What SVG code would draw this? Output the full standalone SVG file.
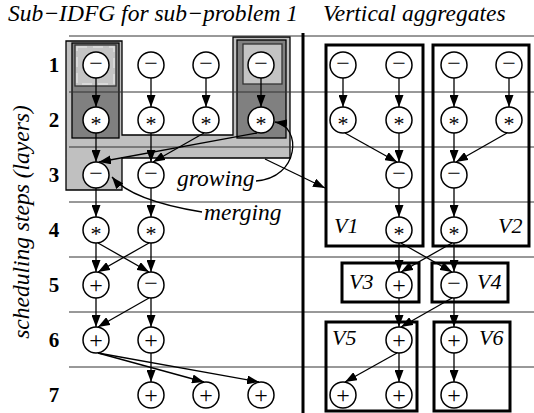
<svg xmlns="http://www.w3.org/2000/svg" width="534" height="413" viewBox="0 0 534 413">
  <style>
    .row { stroke: #333; stroke-width: 1; fill: none; }
    .e { stroke: #000; stroke-width: 1.3; fill: none; marker-end: url(#ah); }
    .n circle { fill: #fff; stroke: #000; stroke-width: 1.5; }
    .op { font-family: "Liberation Serif", "Times New Roman", "DejaVu Serif", serif; font-size: 24px; text-anchor: middle; }
    .ast { font-family: "Liberation Serif", "Times New Roman", "DejaVu Serif", serif; font-size: 22px; text-anchor: middle; }
    .lbl { font-family: "Liberation Serif", "Times New Roman", "DejaVu Serif", serif; font-style: italic; font-size: 23.5px; }
    .vl { font-family: "Liberation Serif", "Times New Roman", "DejaVu Serif", serif; font-style: italic; font-size: 22px; }
    .num { font-family: "Liberation Serif", "Times New Roman", "DejaVu Serif", serif; font-weight: bold; font-size: 21px; text-anchor: middle; }
    .agg { fill: none; stroke: #000; stroke-width: 3; }
    .lg { fill: #c0c0c0; stroke: #000; stroke-width: 1.3; }
    .dg { fill: #808080; stroke: #000; stroke-width: 1.3; }
  </style>
  <defs>
    <marker id="ah" viewBox="0 0 12 9" refX="12" refY="4.5" markerWidth="12" markerHeight="9" markerUnits="userSpaceOnUse" orient="auto">
      <path d="M0,0 L12,4.5 L0,9 z" fill="#000"/>
    </marker>
  </defs>
  <rect width="534" height="413" fill="#fff"/>

  <!-- titles -->
  <text class="lbl" x="8" y="21">Sub−IDFG for sub−problem 1</text>
  <text class="lbl" x="323" y="21">Vertical aggregates</text>
  <text class="lbl" transform="translate(29,222) rotate(-90)" text-anchor="middle">scheduling steps (layers)</text>

  <!-- layer numbers -->
  <g id="layer-numbers">
    <text class="num" x="54" y="72">1</text>
    <text class="num" x="54" y="127">2</text>
    <text class="num" x="54" y="182">3</text>
    <text class="num" x="54" y="237">4</text>
    <text class="num" x="54" y="292">5</text>
    <text class="num" x="54" y="347">6</text>
    <text class="num" x="54" y="402">7</text>
  </g>

  <!-- shaded sub-problem region -->
  <g id="subproblem-region">
    <path class="lg" d="M66,41 H122 V135 H233 V37 H290 V158 H122 V190 H66 Z"/>
    <rect class="dg" x="72" y="43" width="47" height="95"/>
    <rect class="dg" x="237" y="40" width="49" height="98"/>
    <rect x="75" y="45" width="41" height="41" fill="#c4c4c4" stroke="#333" stroke-width="1.3"/>
    <rect x="77" y="47" width="37" height="37" fill="none" stroke="#e0e0e0" stroke-width="1.5" stroke-dasharray="10 6"/>
    <rect x="243" y="44" width="39" height="40" fill="#c4c4c4" stroke="#333" stroke-width="1.3"/>
  </g>

  <!-- layer separators -->
  <g id="layer-lines">
    <line class="row" x1="69" y1="36" x2="534" y2="36"/>
    <line class="row" x1="69" y1="92" x2="534" y2="92"/>
    <line class="row" x1="69" y1="147" x2="534" y2="147"/>
    <line class="row" x1="69" y1="202" x2="534" y2="202"/>
    <line class="row" x1="69" y1="257" x2="534" y2="257"/>
    <line class="row" x1="69" y1="312" x2="534" y2="312"/>
    <line class="row" x1="69" y1="367" x2="534" y2="367"/>
  </g>

  <!-- divider -->
  <line x1="303" y1="33" x2="303" y2="413" stroke="#000" stroke-width="3"/>

  <!-- vertical aggregates -->
  <g id="aggregates">
    <g id="V1"><rect class="agg" x="326" y="45" width="97" height="201"/><text class="vl" x="334" y="233">V1</text></g>
    <g id="V2"><rect class="agg" x="433" y="45" width="96" height="201"/><text class="vl" x="498" y="233">V2</text></g>
    <g id="V3"><rect class="agg" x="342" y="263" width="77" height="39"/><text class="vl" x="349" y="289">V3</text></g>
    <g id="V4"><rect class="agg" x="432" y="263" width="76" height="39"/><text class="vl" x="477" y="289">V4</text></g>
    <g id="V5"><rect class="agg" x="326" y="322" width="91" height="89"/><text class="vl" x="332" y="345">V5</text></g>
    <g id="V6"><rect class="agg" x="434" y="322" width="76" height="89"/><text class="vl" x="479" y="345">V6</text></g>
  </g>

  <!-- connectors -->
  <g id="connectors">
    <!-- left graph -->
    <line class="e" x1="96" y1="78" x2="96" y2="107"/>
    <line class="e" x1="151" y1="78" x2="151" y2="107"/>
    <line class="e" x1="206" y1="78" x2="206" y2="107"/>
    <line class="e" x1="261" y1="78" x2="261" y2="107"/>
    <line class="e" x1="96" y1="133" x2="96" y2="162"/>
    <line class="e" x1="151" y1="133" x2="151" y2="162"/>
    <line class="e" x1="204" y1="133" x2="153" y2="162"/>
    <line class="e" x1="257" y1="133" x2="99" y2="162"/>
    <line class="e" x1="96" y1="188" x2="96" y2="217"/>
    <line class="e" x1="151" y1="188" x2="151" y2="217"/>
    <line class="e" x1="96" y1="243" x2="96" y2="272"/>
    <line class="e" x1="98" y1="243" x2="149" y2="272"/>
    <line class="e" x1="149" y1="243" x2="98" y2="272"/>
    <line class="e" x1="151" y1="243" x2="151" y2="272"/>
    <line class="e" x1="96" y1="298" x2="96" y2="327"/>
    <line class="e" x1="149" y1="298" x2="98" y2="327"/>
    <line class="e" x1="151" y1="298" x2="151" y2="327"/>
    <line class="e" x1="98" y1="353" x2="204" y2="382"/>
    <line class="e" x1="98" y1="353" x2="259" y2="382"/>
    <line class="e" x1="151" y1="353" x2="151" y2="382"/>
    <!-- right graph -->
    <line class="e" x1="343" y1="78" x2="343" y2="107"/>
    <line class="e" x1="399" y1="78" x2="399" y2="107"/>
    <line class="e" x1="454" y1="78" x2="454" y2="107"/>
    <line class="e" x1="509" y1="78" x2="509" y2="107"/>
    <line class="e" x1="345" y1="133" x2="397" y2="162"/>
    <line class="e" x1="399" y1="133" x2="399" y2="162"/>
    <line class="e" x1="454" y1="133" x2="454" y2="162"/>
    <line class="e" x1="507" y1="133" x2="456" y2="162"/>
    <line class="e" x1="399" y1="188" x2="399" y2="217"/>
    <line class="e" x1="454" y1="188" x2="454" y2="217"/>
    <line class="e" x1="399" y1="243" x2="399" y2="272"/>
    <line class="e" x1="401" y1="243" x2="452" y2="272"/>
    <line class="e" x1="452" y1="243" x2="401" y2="272"/>
    <line class="e" x1="454" y1="243" x2="454" y2="272"/>
    <line class="e" x1="399" y1="298" x2="399" y2="327"/>
    <line class="e" x1="452" y1="298" x2="401" y2="327"/>
    <line class="e" x1="454" y1="298" x2="454" y2="327"/>
    <line class="e" x1="397" y1="353" x2="345" y2="382"/>
    <line class="e" x1="399" y1="353" x2="399" y2="382"/>
    <line class="e" x1="454" y1="353" x2="454" y2="382"/>
    <!-- annotations -->
    <path class="e" d="M256,181 C300,178 302,126 275,122"/>
    <path class="e" d="M202,212 C165,206 128,196 112,177"/>
    <line class="e" x1="265" y1="159" x2="325" y2="188"/>
  </g>

  <text class="lbl" x="177" y="186">growing</text>
  <text class="lbl" x="204" y="220">merging</text>

  <!-- left operation nodes -->
  <g id="left-nodes">
    <g id="l1a" class="n"><circle cx="96" cy="65" r="13"/><text class="op" x="96" y="71">−</text></g>
    <g id="l1b" class="n"><circle cx="151" cy="65" r="13"/><text class="op" x="151" y="71">−</text></g>
    <g id="l1c" class="n"><circle cx="206" cy="65" r="13"/><text class="op" x="206" y="71">−</text></g>
    <g id="l1d" class="n"><circle cx="261" cy="65" r="13"/><text class="op" x="261" y="71">−</text></g>
    <g id="l2a" class="n"><circle cx="96" cy="120" r="13"/><text class="ast" x="96" y="131">*</text></g>
    <g id="l2b" class="n"><circle cx="151" cy="120" r="13"/><text class="ast" x="151" y="131">*</text></g>
    <g id="l2c" class="n"><circle cx="206" cy="120" r="13"/><text class="ast" x="206" y="131">*</text></g>
    <g id="l2d" class="n"><circle cx="261" cy="120" r="13"/><text class="ast" x="261" y="131">*</text></g>
    <g id="l3a" class="n"><circle cx="96" cy="175" r="13"/><text class="op" x="96" y="181">−</text></g>
    <g id="l3b" class="n"><circle cx="151" cy="175" r="13"/><text class="op" x="151" y="181">−</text></g>
    <g id="l4a" class="n"><circle cx="96" cy="230" r="13"/><text class="ast" x="96" y="241">*</text></g>
    <g id="l4b" class="n"><circle cx="151" cy="230" r="13"/><text class="ast" x="151" y="241">*</text></g>
    <g id="l5a" class="n"><circle cx="96" cy="285" r="13"/><text class="op" x="96" y="293">+</text></g>
    <g id="l5b" class="n"><circle cx="151" cy="285" r="13"/><text class="op" x="151" y="291">−</text></g>
    <g id="l6a" class="n"><circle cx="96" cy="340" r="13"/><text class="op" x="96" y="348">+</text></g>
    <g id="l6b" class="n"><circle cx="151" cy="340" r="13"/><text class="op" x="151" y="348">+</text></g>
    <g id="l7b" class="n"><circle cx="151" cy="395" r="13"/><text class="op" x="151" y="403">+</text></g>
    <g id="l7c" class="n"><circle cx="206" cy="395" r="13"/><text class="op" x="206" y="403">+</text></g>
    <g id="l7d" class="n"><circle cx="261" cy="395" r="13"/><text class="op" x="261" y="403">+</text></g>
  </g>

  <!-- right operation nodes -->
  <g id="right-nodes">
    <g id="r1a" class="n"><circle cx="343" cy="65" r="13"/><text class="op" x="343" y="71">−</text></g>
    <g id="r1b" class="n"><circle cx="399" cy="65" r="13"/><text class="op" x="399" y="71">−</text></g>
    <g id="r1c" class="n"><circle cx="454" cy="65" r="13"/><text class="op" x="454" y="71">−</text></g>
    <g id="r1d" class="n"><circle cx="509" cy="65" r="13"/><text class="op" x="509" y="71">−</text></g>
    <g id="r2a" class="n"><circle cx="343" cy="120" r="13"/><text class="ast" x="343" y="131">*</text></g>
    <g id="r2b" class="n"><circle cx="399" cy="120" r="13"/><text class="ast" x="399" y="131">*</text></g>
    <g id="r2c" class="n"><circle cx="454" cy="120" r="13"/><text class="ast" x="454" y="131">*</text></g>
    <g id="r2d" class="n"><circle cx="509" cy="120" r="13"/><text class="ast" x="509" y="131">*</text></g>
    <g id="r3b" class="n"><circle cx="399" cy="175" r="13"/><text class="op" x="399" y="181">−</text></g>
    <g id="r3c" class="n"><circle cx="454" cy="175" r="13"/><text class="op" x="454" y="181">−</text></g>
    <g id="r4b" class="n"><circle cx="399" cy="230" r="13"/><text class="ast" x="399" y="241">*</text></g>
    <g id="r4c" class="n"><circle cx="454" cy="230" r="13"/><text class="ast" x="454" y="241">*</text></g>
    <g id="r5b" class="n"><circle cx="399" cy="285" r="13"/><text class="op" x="399" y="293">+</text></g>
    <g id="r5c" class="n"><circle cx="454" cy="285" r="13"/><text class="op" x="454" y="291">−</text></g>
    <g id="r6b" class="n"><circle cx="399" cy="340" r="13"/><text class="op" x="399" y="348">+</text></g>
    <g id="r6c" class="n"><circle cx="454" cy="340" r="13"/><text class="op" x="454" y="348">+</text></g>
    <g id="r7a" class="n"><circle cx="343" cy="395" r="13"/><text class="op" x="343" y="403">+</text></g>
    <g id="r7b" class="n"><circle cx="399" cy="395" r="13"/><text class="op" x="399" y="403">+</text></g>
    <g id="r7c" class="n"><circle cx="454" cy="395" r="13"/><text class="op" x="454" y="403">+</text></g>
  </g>
</svg>
